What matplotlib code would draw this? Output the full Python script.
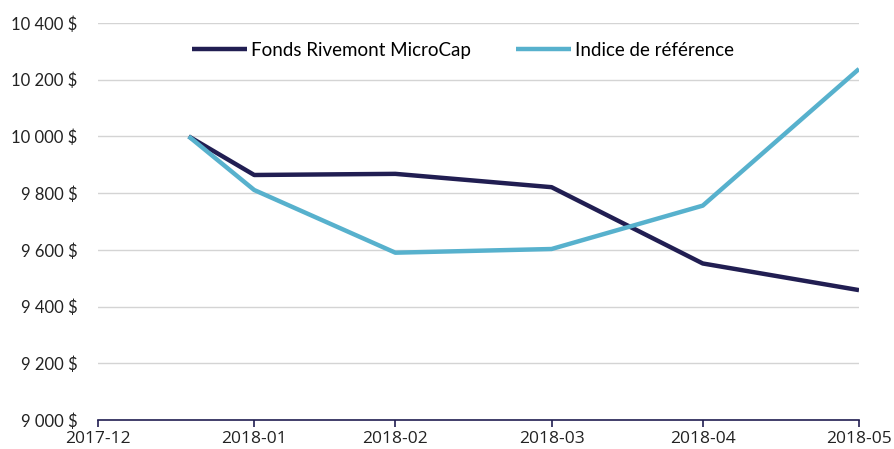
import matplotlib
matplotlib.use("Agg")
import matplotlib.pyplot as plt
import matplotlib.ticker as mticker
import pandas as pd

# ── Data ─────────────────────────────────────────────────────────────────────
dates = pd.to_datetime(["2018-01-18", "2018-01-31", "2018-02-28",
                        "2018-03-31", "2018-04-30", "2018-05-31"])
fonds = [10000, 9864, 9868, 9821, 9552, 9458]
indice = [10000, 9811, 9590, 9603, 9756, 10238]

tick_dates = pd.to_datetime(["2017-12-31", "2018-01-31", "2018-02-28",
                             "2018-03-31", "2018-04-30", "2018-05-31"])
tick_labels = ["2017-12", "2018-01", "2018-02", "2018-03", "2018-04", "2018-05"]

NAVY = "#211e52"
BLUE = "#57b1cd"

plt.rcParams["font.family"] = ["Lato", "DejaVu Sans"]

fig = plt.figure(figsize=(8.95, 4.49), dpi=100)
ax = fig.add_axes([98 / 895, 1 - 420 / 449, (859 - 98) / 895, (420 - 23) / 449])

ax.plot(dates, fonds, color=NAVY, lw=3.2, label="Fonds Rivemont MicroCap",
        solid_capstyle="butt")
ax.plot(dates, indice, color=BLUE, lw=3.2, label="Indice de référence",
        solid_capstyle="butt")

ax.set_xlim(tick_dates[0], tick_dates[-1])
ax.set_ylim(9000, 10400)
ax.set_xticks(tick_dates)
ax.set_xticklabels(tick_labels, family=["Open Sans", "DejaVu Sans"])
ax.yaxis.set_major_locator(mticker.MultipleLocator(200))
ax.yaxis.set_major_formatter(
    mticker.FuncFormatter(lambda v, _: f"{int(v):,} $".replace(",", " ")))

ax.grid(axis="y", color="#d4d4d4", lw=1)
ax.set_axisbelow(True)
for s in ["left", "right", "top"]:
    ax.spines[s].set_visible(False)
ax.spines["bottom"].set_color(NAVY)
ax.spines["bottom"].set_linewidth(1.2)
ax.tick_params(axis="x", colors=NAVY, length=5, width=1.2, labelsize=12.5,
               labelcolor="#222222", pad=3)
ax.tick_params(axis="y", length=0, labelsize=12, labelcolor="#222222", pad=15)

ax.legend(loc="upper center", bbox_to_anchor=(0.48, 0.995), ncol=2,
          frameon=False, fontsize=13.5, handlelength=2.9, handletextpad=0.25,
          columnspacing=2.4)

fig.savefig("out.png", dpi=100)
